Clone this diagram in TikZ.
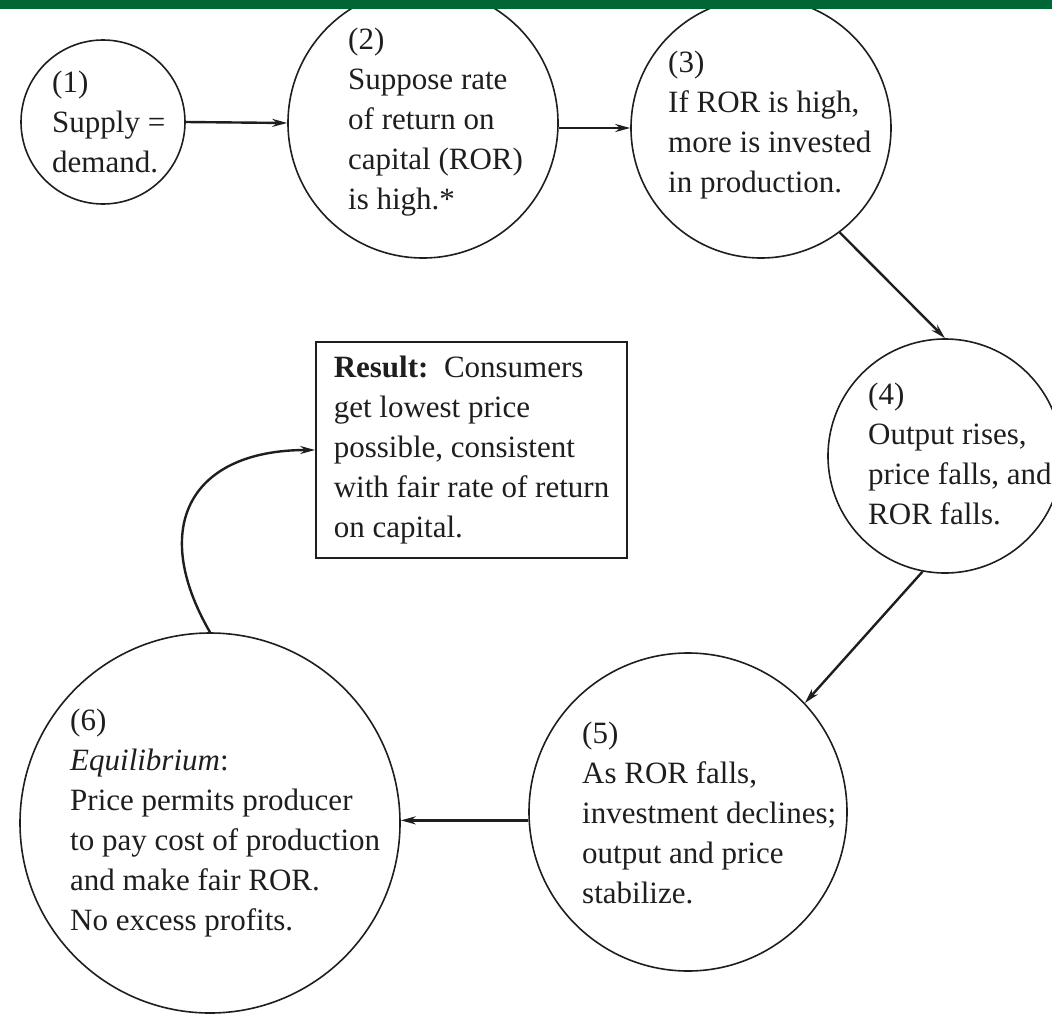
\documentclass[tikz,border=0pt]{standalone}
\usepackage{fontspec}
\setmainfont{Liberation Serif}
\usepackage{tikz}
\usepackage{xcolor}
\usetikzlibrary{arrows.meta, positioning, calc}
\definecolor{bargreen}{RGB}{0, 102, 51}
\definecolor{inkgray}{RGB}{30, 30, 30}
\definecolor{tipgray}{RGB}{95, 95, 95}

\begin{document}
\begin{tikzpicture}[
        x=1pt, y=-1pt,
        font=\fontsize{31}{40}\selectfont,
        bubble/.style={
            circle,
            draw=inkgray,
            line width=1.6pt,
            inner sep=0pt
        },
        bubbletext/.style={
            anchor=west,
            align=left,
            inner sep=0pt,
            text=inkgray
        },
        resultbox/.style={
            rectangle,
            draw=inkgray,
            line width=1.8pt,
            minimum width=311pt,
            minimum height=216pt,
            align=left,
            text=inkgray
        },
        flow/.style={
            -{Stealth[length=15pt, width=8pt, fill=tipgray]},
            line width=2.4pt,
            draw=inkgray
        }
    ]
        \useasboundingbox (0,0) rectangle (1052,1017);
        \clip (0,0) rectangle (1052,1017);

        % the six stages
        \node[bubble, minimum size=164pt] (c1) at (103,122) {};
        \node[bubble, minimum size=270pt] (c2) at (423,123) {};
        \node[bubble, minimum size=260pt] (c3) at (761,128) {};
        \node[bubble, minimum size=234pt] (c4) at (945,456) {};
        \node[bubble, minimum size=318pt] (c5) at (688,812) {};
        \node[bubble, minimum size=380pt] (c6) at (210,823) {};

        \node[bubbletext] (t1) at (52,122) {(1)\\Supply =\\demand.};
        \node[bubbletext] (t2) at (348,122) {(2)\\Suppose rate\\of return on\\capital (ROR)\\is high.*};
        \node[bubbletext] (t3) at (668,125) {(3)\\If ROR is high,\\more is invested\\in production.};
        \node[bubbletext] (t4) at (868,454) {(4)\\Output rises,\\price falls, and\\ROR falls.};
        \node[bubbletext] (t5) at (582,813) {(5)\\As ROR falls,\\investment declines;\\output and price\\stabilize.};
        \node[bubbletext] (t6) at (70,823) {(6)\\\textit{Equilibrium}:\\Price permits producer\\to pay cost of production\\and make fair ROR.\\No excess profits.};

        \node[resultbox] (result) at (471.5,450) {\textbf{Result:}\ \ Consumers\\get lowest price\\possible, consistent\\with fair rate of return\\on capital.};

        % connectors
        \draw[flow] (c1.east) -- (c2.west);
        \draw[flow] (c2.east |- c3.west) -- (c3.west);
        \draw[flow] (c3.-53) -- (c4.north);
        \draw[flow] (c4.-101) -- (c5.43);
        \draw[flow] (c5.183) -- (c5.183 -| c6.east);
        \draw[flow] (c6.north) to[out=120, in=180, looseness=1.5] (result.west);

        % header band
        \fill[bargreen] (0,0) rectangle (1052,9);
    \end{tikzpicture}
\end{document}
